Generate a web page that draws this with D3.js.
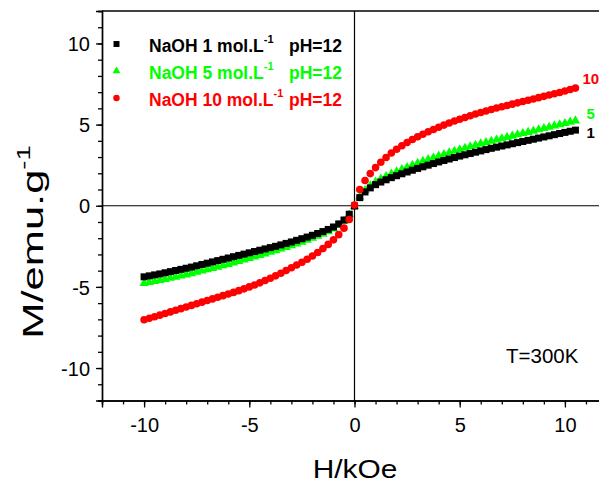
<!DOCTYPE html>
<html>
<head>
<meta charset="utf-8">
<script src="https://cdn.jsdelivr.net/npm/d3@7"></script>
<style>
  body { margin: 0; background: #fff; }
  svg { display: block; }
  text { font-family: Arial, "Liberation Sans", sans-serif; }
</style>
</head>
<body>
<div id="chart"></div>
<script>
// applied field, kOe (same sweep for the three samples)
var fieldKOe = [-10,-9.75,-9.5,-9.25,-9,-8.75,-8.5,-8.25,-8,-7.75,-7.5,-7.25,-7,-6.75,-6.5,-6.25,-6,-5.75,-5.5,-5.25,
  -5,-4.75,-4.5,-4.25,-4,-3.75,-3.5,-3.25,-3,-2.75,-2.5,-2.25,-2,-1.75,-1.5,-1.25,-1,-0.75,-0.5,-0.25,
  0,0.25,0.5,0.75,1,1.25,1.5,1.75,2,2.25,2.5,2.75,3,3.25,3.5,3.75,4,4.25,4.5,4.75,
  5,5.25,5.5,5.75,6,6.25,6.5,6.75,7,7.25,7.5,7.75,8,8.25,8.5,8.75,9,9.25,9.5,9.75,10,10.25,10.5];

// magnetization, emu/g
var mNaOH1 = [-4.38,-4.32,-4.26,-4.2,-4.13,-4.06,-3.99,-3.92,-3.85,-3.78,-3.7,-3.62,-3.54,-3.46,-3.38,-3.3,-3.22,-3.14,-3.06,-2.98,
  -2.9,-2.82,-2.74,-2.66,-2.58,-2.5,-2.41,-2.32,-2.23,-2.13,-2.03,-1.93,-1.82,-1.71,-1.59,-1.46,-1.31,-1.12,-0.88,-0.52,
  -0.02,0.5,0.85,1.1,1.3,1.46,1.6,1.73,1.85,1.97,2.08,2.19,2.3,2.4,2.5,2.6,2.7,2.79,2.88,2.97,
  3.06,3.14,3.22,3.3,3.38,3.46,3.54,3.61,3.68,3.75,3.82,3.89,3.96,4.03,4.1,4.17,4.24,4.31,4.38,4.45,4.52,4.59,4.66];

var mNaOH5 = [-4.78,-4.72,-4.66,-4.6,-4.53,-4.46,-4.39,-4.32,-4.25,-4.17,-4.09,-4.01,-3.93,-3.85,-3.77,-3.69,-3.6,-3.51,-3.42,-3.33,
  -3.24,-3.15,-3.06,-2.96,-2.86,-2.76,-2.66,-2.56,-2.45,-2.34,-2.23,-2.11,-1.99,-1.87,-1.74,-1.59,-1.42,-1.21,-0.94,-0.56,
  -0.04,0.55,0.95,1.24,1.47,1.65,1.81,1.96,2.1,2.24,2.37,2.5,2.62,2.74,2.85,2.96,3.07,3.17,3.27,3.37,
  3.46,3.55,3.64,3.73,3.82,3.9,3.98,4.06,4.14,4.22,4.3,4.38,4.46,4.53,4.61,4.69,4.77,4.85,4.93,5.0,5.08,5.16,5.24];

var mNaOH10 = [-7.02,-6.93,-6.84,-6.74,-6.64,-6.54,-6.44,-6.34,-6.24,-6.14,-6.04,-5.94,-5.84,-5.74,-5.64,-5.54,-5.44,-5.34,-5.23,-5.12,
  -5.0,-4.88,-4.75,-4.61,-4.47,-4.32,-4.16,-3.99,-3.82,-3.65,-3.48,-3.3,-3.1,-2.88,-2.64,-2.38,-2.1,-1.78,-1.38,-0.85,
  0.05,1.0,1.56,1.98,2.35,2.68,2.97,3.25,3.48,3.7,3.9,4.08,4.25,4.41,4.56,4.7,4.84,4.97,5.1,5.22,
  5.33,5.44,5.55,5.65,5.75,5.84,5.93,6.02,6.1,6.18,6.26,6.34,6.42,6.5,6.58,6.66,6.74,6.82,6.9,6.98,7.07,7.16,7.25];

var xTicks = [-10, -5, 0, 5, 10];
var yTicks = [-10, -5, 0, 5, 10];

var series = [
  {name: "NaOH 5 mol.L", tag: "5", values: mNaOH5, color: "#00ff00", shape: "tri"},
  {name: "NaOH 1 mol.L", tag: "1", values: mNaOH1, color: "#000000", shape: "sq"},
  {name: "NaOH 10 mol.L", tag: "10", values: mNaOH10, color: "#ff0000", shape: "dot"}
];

var svgWidth = 599, svgHeight = 484;
var margin = {top: 11, left: 102};
var width = 505, height = 389.5;

var svg = d3.select("#chart").append("svg")
  .attr("width", svgWidth)
  .attr("height", svgHeight);

var chartGroup = svg.append("g")
  .attr("transform", `translate(${margin.left}, ${margin.top})`);

var xScale = d3.scaleLinear().domain([-12, 12]).range([0, width]);
var yScale = d3.scaleLinear().domain([-12, 12]).range([height, 0]);

// plain hyphen for negatives, like the original
var fmt = d => String(d);

// minor ticks every 1 unit, major every 5
var xMinor = chartGroup.append("g")
  .attr("transform", `translate(0, ${height})`)
  .call(d3.axisBottom(xScale).tickValues(d3.range(-12, 13, 1)).tickSize(4).tickFormat(""));
var yMinor = chartGroup.append("g")
  .call(d3.axisLeft(yScale).tickValues(d3.range(-12, 13, 1)).tickSize(4).tickFormat(""));

var xAxis = chartGroup.append("g")
  .attr("transform", `translate(0, ${height})`)
  .call(d3.axisBottom(xScale).tickValues(xTicks).tickSize(7).tickPadding(10).tickFormat(fmt));
var yAxis = chartGroup.append("g")
  .call(d3.axisLeft(yScale).tickValues(yTicks).tickSize(6).tickPadding(6).tickFormat(fmt));

[xMinor, yMinor, xAxis, yAxis].forEach(function(ax) {
  ax.selectAll("path").attr("stroke", "#000").attr("stroke-width", 1.4);
  ax.selectAll("line").attr("stroke", "#000").attr("stroke-width", 1.3);
});
xAxis.selectAll("text").attr("font-size", 20).attr("fill", "#000")
  .attr("font-family", "Arial, 'Liberation Sans', sans-serif");
yAxis.selectAll("text").attr("font-size", 20).attr("fill", "#000")
  .attr("dy", "0.36em")
  .attr("font-family", "Arial, 'Liberation Sans', sans-serif");

// top frame line
chartGroup.append("line")
  .attr("x1", 0).attr("x2", width).attr("y1", 0).attr("y2", 0)
  .attr("stroke", "#000").attr("stroke-width", 1.4);

// zero lines
chartGroup.append("line")
  .attr("x1", 0).attr("x2", width).attr("y1", yScale(0)).attr("y2", yScale(0))
  .attr("stroke", "#000").attr("stroke-width", 1.2);
chartGroup.append("line")
  .attr("x1", xScale(0)).attr("x2", xScale(0)).attr("y1", 0).attr("y2", height)
  .attr("stroke", "#000").attr("stroke-width", 1.2);

function drawMarks(g, s, pts, big) {
  var k = big ? 1 : 0.85;
  if (s.shape === "sq") {
    var a = 7 * k;
    g.selectAll("rect").data(pts).enter().append("rect")
      .attr("x", d => d[0] - a / 2).attr("y", d => d[1] - a / 2)
      .attr("width", a).attr("height", a)
      .attr("fill", s.color);
  } else if (s.shape === "tri") {
    var tri = d3.symbol().type(d3.symbolTriangle).size(38 * k * k);
    g.selectAll("path").data(pts).enter().append("path")
      .attr("d", tri)
      .attr("transform", d => `translate(${d[0]}, ${d[1]})`)
      .attr("fill", s.color);
  } else {
    g.selectAll("circle").data(pts).enter().append("circle")
      .attr("cx", d => d[0]).attr("cy", d => d[1]).attr("r", 3.8 * k)
      .attr("fill", s.color);
  }
}

series.forEach(function(s) {
  var pts = fieldKOe.map((h, i) => [xScale(h), yScale(s.values[i])]);
  drawMarks(chartGroup.append("g"), s, pts, true);
  // curve tag at the right end
  var last = fieldKOe.length - 1;
  chartGroup.append("text")
    .attr("x", xScale(fieldKOe[last]) + (s.tag === "10" ? 7 : 11))
    .attr("y", yScale(s.values[last]) + (s.tag === "10" ? -4 : s.tag === "1" ? 8 : -2))
    .attr("font-size", 15).attr("font-weight", "bold")
    .attr("fill", s.color)
    .text(s.tag);
});

// legend
var legendOrder = [series[1], series[0], series[2]];
legendOrder.forEach(function(s, i) {
  var ly = 33 + i * 27;
  drawMarks(chartGroup.append("g"), s, [[14.5, ly]], false);
  var t = chartGroup.append("text")
    .attr("x", 47).attr("y", ly + 7.5)
    .attr("font-size", 17.5).attr("font-weight", "bold")
    .attr("fill", s.color);
  t.append("tspan").text(s.name);
  t.append("tspan").attr("font-size", 11).attr("dy", -9).text("-1");
  chartGroup.append("text")
    .attr("x", 187).attr("y", ly + 7.5)
    .attr("font-size", 17.5).attr("font-weight", "bold")
    .attr("fill", s.color)
    .text("pH=12");
});

chartGroup.append("text")
  .attr("x", 404).attr("y", 352)
  .attr("font-size", 20.5).attr("fill", "#000")
  .text("T=300K");

// axis titles
svg.append("text")
  .attr("text-anchor", "middle")
  .attr("transform", "translate(355, 478) scale(1.15, 1)")
  .attr("font-size", 26)
  .text("H/kOe");

var yTitle = svg.append("text")
  .attr("text-anchor", "middle")
  .attr("transform", "translate(43, 242) rotate(-90) scale(1.45, 1)")
  .attr("font-size", 30);
yTitle.append("tspan").text("M/emu.g");
yTitle.append("tspan").attr("font-size", 19).attr("dy", -13).text("-1");
</script>
</body>
</html>
